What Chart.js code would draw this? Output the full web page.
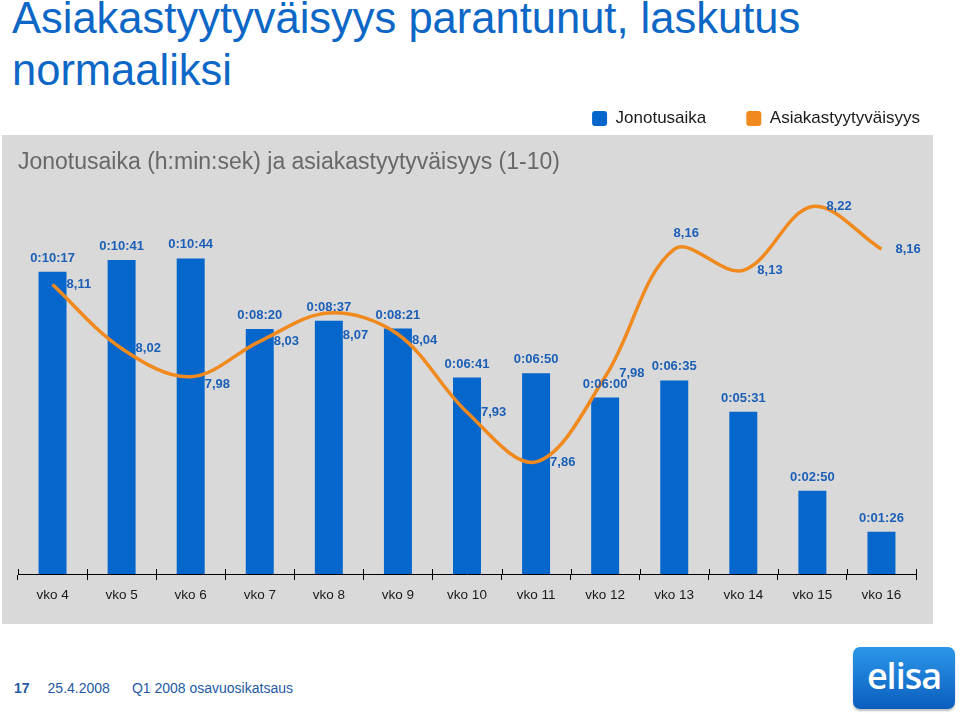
<!DOCTYPE html>
<html>
<head>
<meta charset="utf-8">
<script src="https://cdn.jsdelivr.net/npm/chart.js@4.4.1/dist/chart.umd.min.js"></script>
<style>
  body { margin: 0; width: 960px; height: 714px; background: #fff; position: relative; overflow: hidden;
         font-family: 'Liberation Sans', Arial, sans-serif; }
  .title { position: absolute; left: 12px; top: -8px; font-size: 43.5px; line-height: 52px; color: #0d67c6; }
  .panel { position: absolute; left: 2px; top: 135px; width: 931px; height: 489px; background: #d9d9d9; }
  .chart-box { position: absolute; left: 0; top: 70px; width: 960px; height: 554px; }
  .footer { position: absolute; left: 14px; top: 680px; font-size: 14px; line-height: 16px; color: #2459a3; }
  .footer b { margin-right: 18px; }
  .footer span { margin-right: 22px; }
  .logo { position: absolute; left: 853px; top: 647px; width: 102px; height: 62px; border-radius: 7px;
          background: linear-gradient(#2c97ea, #0a5dbd); box-shadow: 0 2px 2px rgba(0,0,0,0.25);
          color: #fff; font-size: 36px; text-align: center; line-height: 58px; letter-spacing: -1px;
          font-family: 'Open Sans', sans-serif; font-weight: 600; }
</style>
</head>
<body>
<div class="title">Asiakastyytyväisyys parantunut, laskutus<br>normaaliksi</div>
<div class="panel"></div>
<div class="chart-box"><canvas id="chart" width="960" height="554"></canvas></div>
<div class="footer"><b>17</b><span>25.4.2008</span>Q1 2008 osavuosikatsaus</div>
<div class="logo">elisa</div>

<script>
const weeks = ['vko 4', 'vko 5', 'vko 6', 'vko 7', 'vko 8', 'vko 9', 'vko 10', 'vko 11', 'vko 12', 'vko 13', 'vko 14', 'vko 15', 'vko 16'];
// queue time in seconds (0:10:17 -> 617)
const queueSeconds = [617, 641, 644, 500, 517, 501, 401, 410, 360, 395, 331, 170, 86];
// customer satisfaction (1-10)
const satisfaction = [8.11, 8.02, 7.98, 8.03, 8.07, 8.04, 7.93, 7.86, 7.98, 8.16, 8.13, 8.22, 8.16];

const FONT = "'Liberation Sans', Arial, sans-serif";
const BLUE = '#0566cb';
const ORANGE = '#f0891e';
const LABEL_BLUE = '#1c5fb6';

function fmtTime(sec) {
  const h = Math.floor(sec / 3600);
  const m = Math.floor((sec % 3600) / 60);
  const s = sec % 60;
  return h + ':' + String(m).padStart(2, '0') + ':' + String(s).padStart(2, '0');
}

// draws value labels on the bars and the line, plus the short tick stubs above the axis
const valueLabels = {
  id: 'valueLabels',
  afterDatasetsDraw(chart, args, opts) {
    const ctx = chart.ctx;
    ctx.save();
    ctx.font = 'bold 13px ' + FONT;
    ctx.fillStyle = LABEL_BLUE;

    const bars = chart.getDatasetMeta(0).data;
    ctx.textAlign = 'center';
    ctx.textBaseline = 'alphabetic';
    bars.forEach((bar, i) => {
      ctx.fillText(fmtTime(queueSeconds[i]), bar.x, bar.y - 10);
    });

    const pts = chart.getDatasetMeta(1).data;
    pts.forEach((pt, i) => {
      const txt = satisfaction[i].toFixed(2).replace('.', ',');
      const dy = opts.nudge[i] || 0;
      if (opts.above.includes(i)) {
        ctx.textAlign = 'center';
        ctx.textBaseline = 'middle';
        ctx.fillText(txt, pt.x + 12, pt.y - 16);
      } else {
        ctx.textAlign = 'left';
        ctx.textBaseline = 'middle';
        ctx.fillText(txt, pt.x + 14, pt.y + dy);
      }
    });

    // tick stubs crossing the axis line
    const xs = chart.scales.x;
    const area = chart.chartArea;
    ctx.strokeStyle = '#000';
    ctx.lineWidth = 1;
    ctx.beginPath();
    for (let i = 0; i <= weeks.length; i++) {
      const x = Math.round(xs.getPixelForValue(i - 0.5)) + 0.5;
      ctx.moveTo(x, area.bottom - 5);
      ctx.lineTo(x, area.bottom);
    }
    ctx.stroke();
    ctx.restore();
  }
};

new Chart(document.getElementById('chart'), {
  type: 'bar',
  data: {
    labels: weeks,
    datasets: [
      {
        label: 'Jonotusaika',
        data: queueSeconds,
        backgroundColor: BLUE,
        borderWidth: 0,
        yAxisID: 'y',
        categoryPercentage: 1,
        barPercentage: 0.405,
        order: 1
      },
      {
        type: 'line',
        label: 'Asiakastyytyväisyys',
        data: satisfaction,
        borderColor: ORANGE,
        backgroundColor: ORANGE,
        borderWidth: 3.5,
        pointRadius: 0,
        tension: 0.35,
        yAxisID: 'y2',
        order: 0
      }
    ]
  },
  options: {
    responsive: false,
    animation: false,
    devicePixelRatio: 1,
    layout: { padding: { left: 18, right: 0, top: 0, bottom: 0 } },
    plugins: {
      tooltip: { enabled: false },
      legend: {
        position: 'top',
        align: 'end',
        weight: 3000,
        labels: {
          font: { family: FONT, size: 17 },
          color: '#1a1a1a',
          boxWidth: 15,
          boxHeight: 15,
          padding: 40,
          useBorderRadius: true,
          borderRadius: 3,
          sort: (a, b) => a.datasetIndex - b.datasetIndex,
          generateLabels(chart) {
            const items = Chart.defaults.plugins.legend.labels.generateLabels(chart);
            items.forEach(it => { it.lineWidth = 0; it.strokeStyle = it.fillStyle; });
            return items;
          }
        }
      },
      title: {
        display: true,
        text: 'Jonotusaika (h:min:sek) ja asiakastyytyväisyys (1-10)',
        align: 'start',
        color: '#686868',
        font: { family: FONT, size: 23, weight: 'normal' },
        padding: { top: 12, bottom: 3 }
      },
      valueLabels: { above: [9], nudge: { 2: 8, 4: 22, 5: 6, 8: -3 } }
    },
    scales: {
      x: {
        offset: true,
        grid: { drawOnChartArea: false, color: '#000', tickLength: 6, offset: true },
        border: { color: '#000', width: 1 },
        ticks: { color: '#1a1a1a', font: { family: FONT, size: 13.5 }, padding: 7 },
        afterFit(scale) { scale.height = 50; }
      },
      y: {
        display: false,
        min: 0,
        max: 805
      },
      y2: {
        position: 'right',
        display: true,
        min: 7.702,
        max: 8.258,
        grid: { display: false },
        border: { display: false },
        ticks: { display: false },
        afterFit(scale) { scale.width = 44; }
      }
    }
  },
  plugins: [valueLabels]
});
</script>
</body>
</html>
